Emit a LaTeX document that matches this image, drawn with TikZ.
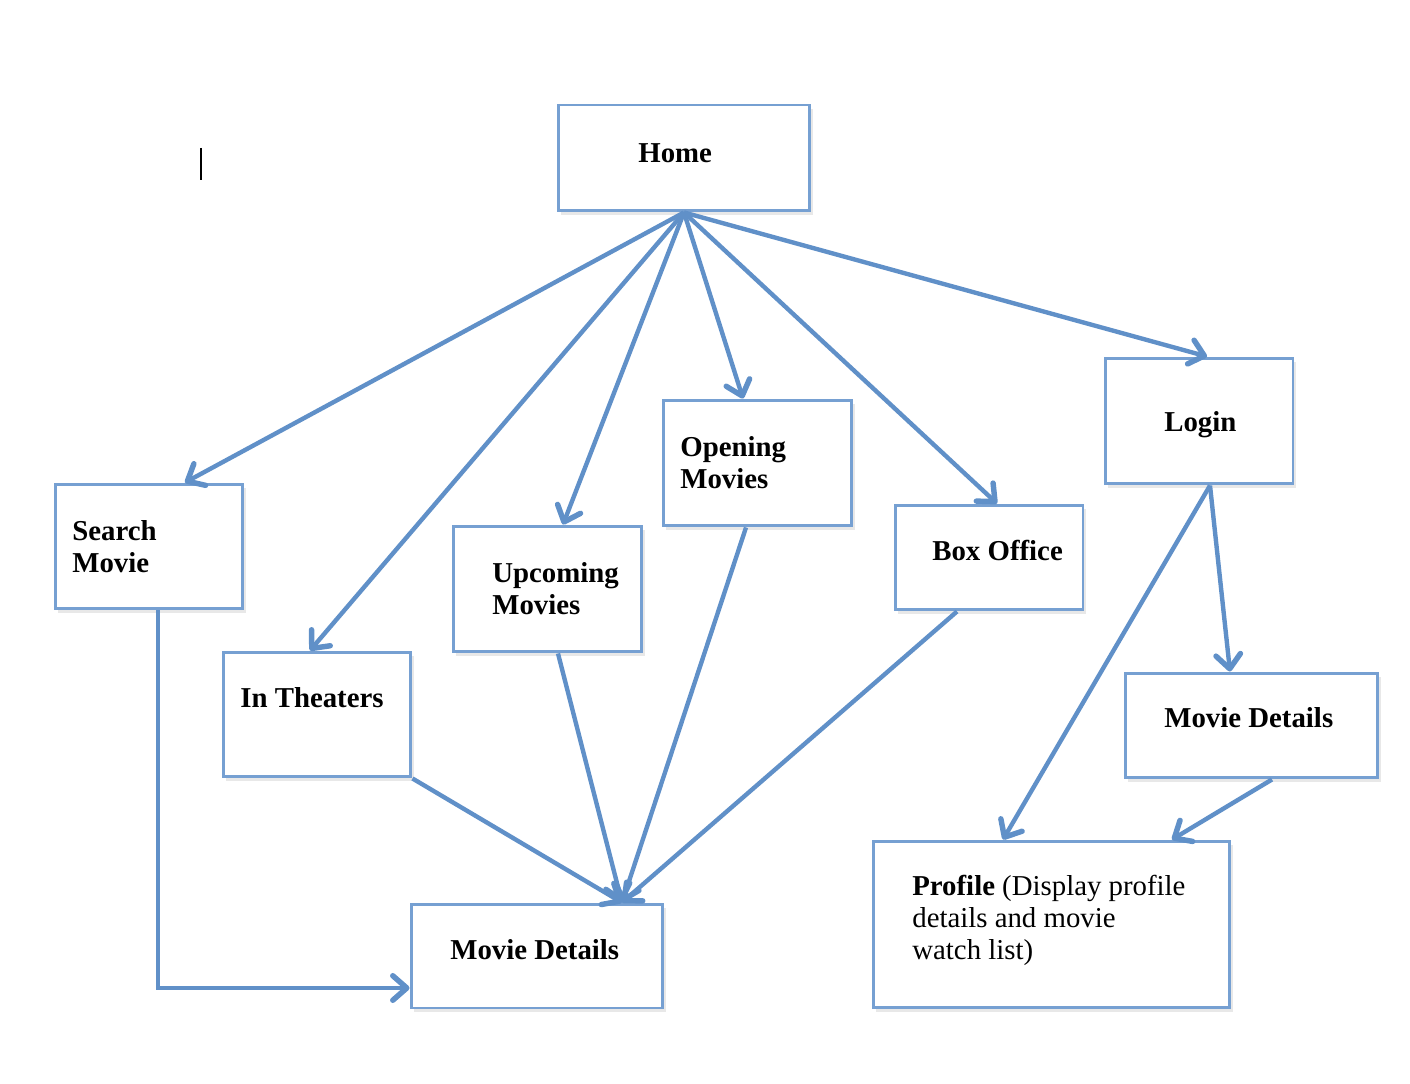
\documentclass[tikz,border=0pt]{standalone}
\usepackage{fontspec}
\setmainfont{Liberation Serif}
\usetikzlibrary{arrows.meta,shadows}
\definecolor{linkblue}{RGB}{96,144,200}
\definecolor{boxblue}{RGB}{118,160,210}
\tikzset{
  page/.style={draw=boxblue, line width=1.7pt, fill=white, inner sep=0pt,
    drop shadow={shadow xshift=1.5pt, shadow yshift=-2pt, opacity=0.18}},
  link/.style={draw=linkblue, line width=2.5pt, -{Straight Barb[length=8pt,width=14pt,line width=0.6pt 1,round]}},
  note/.style={right, inner sep=0pt, align=left, font=\fontsize{16.4}{18.2}\selectfont},
  title/.style={note, font=\bfseries\fontsize{16.4}{18.2}\selectfont}
}
\begin{document}
\begin{tikzpicture}[x=0.02cm,y=-0.02cm]
\useasboundingbox (0,0) rectangle (1410,1084);
\draw[line width=1.2pt] (201,148) -- (201,180);

\draw node (home) at (684,158) [page, minimum width=5.04cm, minimum height=2.12cm] {};
\draw node (search) at (149,546.5) [page, minimum width=3.76cm, minimum height=2.5cm] {};
\draw node (theaters) at (317,714.5) [page, minimum width=3.76cm, minimum height=2.5cm] {};
\draw node (upcoming) at (547.5,589) [page, minimum width=3.78cm, minimum height=2.52cm] {};
\draw node (opening) at (757.5,463) [page, minimum width=3.78cm, minimum height=2.52cm] {};
\draw node (boxoffice) at (989,557.5) [page, minimum width=3.76cm, minimum height=2.1cm] {};
\draw node (login) at (1199,421) [page, minimum width=3.76cm, minimum height=2.52cm] {};
\draw node (detailsR) at (1251.5,725.5) [page, minimum width=5.06cm, minimum height=2.1cm] {};
\draw node (profile) at (1051.5,924.5) [page, minimum width=7.14cm, minimum height=3.34cm] {};
\draw node (details) at (537,956) [page, minimum width=5.04cm, minimum height=2.08cm] {};

\draw node (lhome) at (638,153) [title] {Home};
\draw node (lsearch) at (72,547) [title] {Search\\Movie};
\draw node (ltheaters) at (240,698) [title] {In Theaters};
\draw node (lupcoming) at (492,589) [title] {Upcoming\\Movies};
\draw node (lopening) at (680,463) [title] {Opening\\Movies};
\draw node (lboxoffice) at (932,550) [title] {Box Office};
\draw node (llogin) at (1164,425) [title] {Login};
\draw node (ldetailsR) at (1164,718) [title] {Movie Details};
\draw node (lprofile) at (912,920) [note] {\textbf{Profile} (Display profile\\details and movie\\watch list)};
\draw node (ldetails) at (450,950) [title] {Movie Details};

\draw [link] (home.south) -- ([xshift=0.72cm]search.north);
\draw [link] (home.south) -- ([xshift=-0.14cm]theaters.north);
\draw [link] (home.south) -- ([xshift=0.31cm]upcoming.north);
\draw [link] (home.south) -- ([xshift=-0.29cm]opening.north);
\draw [link] (home.south) -- ([xshift=0.16cm]boxoffice.north);
\draw [link] (home.south) -- ([xshift=0.16cm]login.north);

\draw [link] ([xshift=0.22cm]login.south) -- ([xshift=-0.97cm]profile.north);
\draw [link] ([xshift=0.22cm]login.south) -- ([xshift=-0.43cm]detailsR.north);
\draw [link] ([xshift=0.41cm]detailsR.south) -- ([xshift=2.41cm]profile.north);

\draw [link] (theaters.south east) -- ([xshift=1.7cm]details.north);
\draw [link] ([xshift=0.21cm]upcoming.south) -- ([xshift=1.7cm]details.north);
\draw [link] ([xshift=-0.23cm]opening.south) -- ([xshift=1.7cm]details.north);
\draw [link] ([xshift=-0.64cm]boxoffice.south) -- ([xshift=1.7cm]details.north);
\draw [link] ([xshift=0.18cm]search.south) |- ([yshift=-0.64cm]details.west);
\end{tikzpicture}
\end{document}
